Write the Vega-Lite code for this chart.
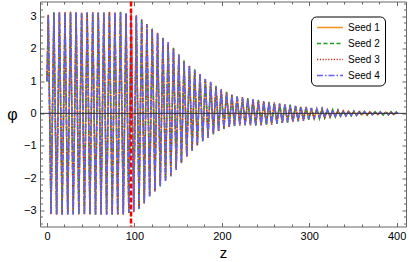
{
  "$schema": "https://vega.github.io/schema/vega-lite/v6.json",
  "width": 366,
  "height": 225,
  "autosize": {"type": "none"},
  "padding": {"left": 40, "top": 1.5, "right": 3, "bottom": 35.5},
  "background": "white",
  "config": {
    "view": {"stroke": "#666666", "strokeWidth": 1},
    "font": "Liberation Sans",
    "axis": {"domain": false, "grid": false, "labelFont": "Liberation Sans", "labelFontSize": 11, "labelColor": "#000000", "titleFont": "Liberation Sans", "titleFontWeight": "normal", "titleColor": "#000000", "tickColor": "#666666", "tickWidth": 1, "zindex": 1},
    "legend": {"strokeColor": "#000000", "fillColor": "#ffffff", "cornerRadius": 5, "padding": 5, "rowPadding": 5, "labelFont": "Liberation Sans", "labelFontSize": 10, "labelColor": "#000000", "symbolType": "M-1,0H4.2", "symbolSize": 100, "symbolStrokeWidth": 1.5, "labelOffset": 20}
  },
  "datasets": {
    "wave": [
      {"z": 0, "Seed 1": 1.0, "Seed 2": 0.98, "Seed 3": 1.02, "Seed 4": 1.0},
      {"z": 1.5, "Seed 1": 3.04, "Seed 2": 3.02, "Seed 3": 3.05, "Seed 4": 3.03},
      {"z": 4.6, "Seed 1": -3.12, "Seed 2": -3.1, "Seed 3": -3.13, "Seed 4": -3.11},
      {"z": 7.9, "Seed 1": 3.11, "Seed 2": 3.13, "Seed 3": 3.09, "Seed 4": 3.12},
      {"z": 11.0, "Seed 1": -3.13, "Seed 2": -3.11, "Seed 3": -3.14, "Seed 4": -3.12},
      {"z": 14.2, "Seed 1": 3.12, "Seed 2": 3.1, "Seed 3": 3.13, "Seed 4": 3.14},
      {"z": 17.3, "Seed 1": -3.1, "Seed 2": -3.13, "Seed 3": -3.12, "Seed 4": -3.14},
      {"z": 20.6, "Seed 1": 3.13, "Seed 2": 3.11, "Seed 3": 3.12, "Seed 4": 3.1},
      {"z": 23.7, "Seed 1": -3.14, "Seed 2": -3.12, "Seed 3": -3.1, "Seed 4": -3.13},
      {"z": 26.9, "Seed 1": 3.1, "Seed 2": 3.12, "Seed 3": 3.14, "Seed 4": 3.11},
      {"z": 30.0, "Seed 1": -3.12, "Seed 2": -3.14, "Seed 3": -3.11, "Seed 4": -3.13},
      {"z": 33.3, "Seed 1": 3.12, "Seed 2": 3.1, "Seed 3": 3.11, "Seed 4": 3.13},
      {"z": 36.4, "Seed 1": -3.11, "Seed 2": -3.13, "Seed 3": -3.14, "Seed 4": -3.12},
      {"z": 39.6, "Seed 1": 3.09, "Seed 2": 3.11, "Seed 3": 3.12, "Seed 4": 3.1},
      {"z": 42.8, "Seed 1": -3.13, "Seed 2": -3.12, "Seed 3": -3.1, "Seed 4": -3.14},
      {"z": 46.0, "Seed 1": 3.12, "Seed 2": 3.14, "Seed 3": 3.1, "Seed 4": 3.13},
      {"z": 49.1, "Seed 1": -3.14, "Seed 2": -3.11, "Seed 3": -3.13, "Seed 4": -3.12},
      {"z": 52.3, "Seed 1": 3.11, "Seed 2": 3.12, "Seed 3": 3.13, "Seed 4": 3.1},
      {"z": 55.5, "Seed 1": -3.12, "Seed 2": -3.14, "Seed 3": -3.12, "Seed 4": -3.13},
      {"z": 58.7, "Seed 1": 3.13, "Seed 2": 3.11, "Seed 3": 3.1, "Seed 4": 3.12},
      {"z": 61.8, "Seed 1": -3.1, "Seed 2": -3.12, "Seed 3": -3.14, "Seed 4": -3.13},
      {"z": 65.0, "Seed 1": 3.1, "Seed 2": 3.12, "Seed 3": 3.11, "Seed 4": 3.13},
      {"z": 68.2, "Seed 1": -3.13, "Seed 2": -3.11, "Seed 3": -3.12, "Seed 4": -3.14},
      {"z": 71.4, "Seed 1": 3.14, "Seed 2": 3.12, "Seed 3": 3.13, "Seed 4": 3.11},
      {"z": 74.6, "Seed 1": -3.12, "Seed 2": -3.14, "Seed 3": -3.11, "Seed 4": -3.13},
      {"z": 77.7, "Seed 1": 3.11, "Seed 2": 3.1, "Seed 3": 3.12, "Seed 4": 3.12},
      {"z": 80.9, "Seed 1": -3.14, "Seed 2": -3.12, "Seed 3": -3.13, "Seed 4": -3.11},
      {"z": 84.1, "Seed 1": 3.12, "Seed 2": 3.14, "Seed 3": 3.11, "Seed 4": 3.13},
      {"z": 87.3, "Seed 1": -3.11, "Seed 2": -3.13, "Seed 3": -3.14, "Seed 4": -3.12},
      {"z": 90.4, "Seed 1": 3.08, "Seed 2": 3.1, "Seed 3": 3.07, "Seed 4": 3.09},
      {"z": 93.6, "Seed 1": -3.06, "Seed 2": -3.08, "Seed 3": -3.07, "Seed 4": -3.05},
      {"z": 96.3, "Seed 1": 3.06, "Seed 2": 3.04, "Seed 3": 3.07, "Seed 4": 3.05},
      {"z": 99.2, "Seed 1": -3.05, "Seed 2": -3.03, "Seed 3": -3.06, "Seed 4": -3.04},
      {"z": 102.2, "Seed 1": 3.02, "Seed 2": 3.0, "Seed 3": 3.04, "Seed 4": 3.01},
      {"z": 105.3, "Seed 1": -2.94, "Seed 2": -2.96, "Seed 3": -2.92, "Seed 4": -2.95},
      {"z": 108.3, "Seed 1": 2.9, "Seed 2": 2.92, "Seed 3": 2.88, "Seed 4": 2.91},
      {"z": 111.3, "Seed 1": -2.78, "Seed 2": -2.76, "Seed 3": -2.8, "Seed 4": -2.77},
      {"z": 114.3, "Seed 1": 2.74, "Seed 2": 2.72, "Seed 3": 2.76, "Seed 4": 2.75},
      {"z": 117.4, "Seed 1": -2.56, "Seed 2": -2.58, "Seed 3": -2.54, "Seed 4": -2.57},
      {"z": 120.4, "Seed 1": 2.61, "Seed 2": 2.63, "Seed 3": 2.59, "Seed 4": 2.6},
      {"z": 123.5, "Seed 1": -2.4, "Seed 2": -2.38, "Seed 3": -2.42, "Seed 4": -2.41},
      {"z": 126.5, "Seed 1": 2.47, "Seed 2": 2.45, "Seed 3": 2.49, "Seed 4": 2.48},
      {"z": 129.6, "Seed 1": -2.24, "Seed 2": -2.26, "Seed 3": -2.22, "Seed 4": -2.25},
      {"z": 132.6, "Seed 1": 2.33, "Seed 2": 2.35, "Seed 3": 2.31, "Seed 4": 2.32},
      {"z": 135.6, "Seed 1": -2.08, "Seed 2": -2.06, "Seed 3": -2.1, "Seed 4": -2.09},
      {"z": 138.6, "Seed 1": 2.18, "Seed 2": 2.16, "Seed 3": 2.2, "Seed 4": 2.19},
      {"z": 141.7, "Seed 1": -1.93, "Seed 2": -1.95, "Seed 3": -1.91, "Seed 4": -1.94},
      {"z": 144.7, "Seed 1": 2.01, "Seed 2": 2.03, "Seed 3": 1.99, "Seed 4": 2.0},
      {"z": 147.8, "Seed 1": -1.73, "Seed 2": -1.71, "Seed 3": -1.75, "Seed 4": -1.74},
      {"z": 150.8, "Seed 1": 1.81, "Seed 2": 1.79, "Seed 3": 1.83, "Seed 4": 1.82},
      {"z": 153.8, "Seed 1": -1.53, "Seed 2": -1.55, "Seed 3": -1.51, "Seed 4": -1.54},
      {"z": 156.8, "Seed 1": 1.62, "Seed 2": 1.64, "Seed 3": 1.6, "Seed 4": 1.61},
      {"z": 159.9, "Seed 1": -1.33, "Seed 2": -1.31, "Seed 3": -1.35, "Seed 4": -1.34},
      {"z": 162.9, "Seed 1": 1.47, "Seed 2": 1.45, "Seed 3": 1.49, "Seed 4": 1.48},
      {"z": 166.0, "Seed 1": -1.14, "Seed 2": -1.16, "Seed 3": -1.12, "Seed 4": -1.15},
      {"z": 169.0, "Seed 1": 1.34, "Seed 2": 1.36, "Seed 3": 1.32, "Seed 4": 1.33},
      {"z": 172.0, "Seed 1": -0.98, "Seed 2": -0.96, "Seed 3": -1.0, "Seed 4": -0.99},
      {"z": 175.0, "Seed 1": 1.21, "Seed 2": 1.19, "Seed 3": 1.23, "Seed 4": 1.22},
      {"z": 178.1, "Seed 1": -0.85, "Seed 2": -0.87, "Seed 3": -0.83, "Seed 4": -0.86},
      {"z": 181.1, "Seed 1": 1.07, "Seed 2": 1.09, "Seed 3": 1.05, "Seed 4": 1.06},
      {"z": 184.2, "Seed 1": -0.74, "Seed 2": -0.72, "Seed 3": -0.76, "Seed 4": -0.75},
      {"z": 187.2, "Seed 1": 0.96, "Seed 2": 0.94, "Seed 3": 0.98, "Seed 4": 0.97},
      {"z": 190.3, "Seed 1": -0.63, "Seed 2": -0.65, "Seed 3": -0.61, "Seed 4": -0.64},
      {"z": 193.3, "Seed 1": 0.83, "Seed 2": 0.85, "Seed 3": 0.81, "Seed 4": 0.82},
      {"z": 196.3, "Seed 1": -0.54, "Seed 2": -0.52, "Seed 3": -0.56, "Seed 4": -0.55},
      {"z": 199.3, "Seed 1": 0.73, "Seed 2": 0.71, "Seed 3": 0.75, "Seed 4": 0.74},
      {"z": 202.4, "Seed 1": -0.47, "Seed 2": -0.49, "Seed 3": -0.45, "Seed 4": -0.48},
      {"z": 205.4, "Seed 1": 0.65, "Seed 2": 0.67, "Seed 3": 0.63, "Seed 4": 0.64},
      {"z": 208.5, "Seed 1": -0.42, "Seed 2": -0.4, "Seed 3": -0.44, "Seed 4": -0.43},
      {"z": 211.5, "Seed 1": 0.57, "Seed 2": 0.55, "Seed 3": 0.59, "Seed 4": 0.58},
      {"z": 214.5, "Seed 1": -0.38, "Seed 2": -0.4, "Seed 3": -0.36, "Seed 4": -0.39},
      {"z": 217.5, "Seed 1": 0.53, "Seed 2": 0.55, "Seed 3": 0.51, "Seed 4": 0.52},
      {"z": 220.6, "Seed 1": -0.36, "Seed 2": -0.34, "Seed 3": -0.38, "Seed 4": -0.37},
      {"z": 223.6, "Seed 1": 0.48, "Seed 2": 0.46, "Seed 3": 0.5, "Seed 4": 0.49},
      {"z": 226.7, "Seed 1": -0.35, "Seed 2": -0.37, "Seed 3": -0.33, "Seed 4": -0.36},
      {"z": 229.7, "Seed 1": 0.45, "Seed 2": 0.47, "Seed 3": 0.43, "Seed 4": 0.44},
      {"z": 232.7, "Seed 1": -0.35, "Seed 2": -0.33, "Seed 3": -0.37, "Seed 4": -0.36},
      {"z": 235.7, "Seed 1": 0.42, "Seed 2": 0.4, "Seed 3": 0.44, "Seed 4": 0.43},
      {"z": 238.8, "Seed 1": -0.36, "Seed 2": -0.38, "Seed 3": -0.34, "Seed 4": -0.37},
      {"z": 241.8, "Seed 1": 0.4, "Seed 2": 0.42, "Seed 3": 0.38, "Seed 4": 0.39},
      {"z": 244.9, "Seed 1": -0.36, "Seed 2": -0.34, "Seed 3": -0.38, "Seed 4": -0.37},
      {"z": 247.9, "Seed 1": 0.36, "Seed 2": 0.34, "Seed 3": 0.38, "Seed 4": 0.37},
      {"z": 251.0, "Seed 1": -0.35, "Seed 2": -0.37, "Seed 3": -0.33, "Seed 4": -0.36},
      {"z": 254.0, "Seed 1": 0.34, "Seed 2": 0.36, "Seed 3": 0.32, "Seed 4": 0.33},
      {"z": 257.0, "Seed 1": -0.33, "Seed 2": -0.31, "Seed 3": -0.35, "Seed 4": -0.34},
      {"z": 260.0, "Seed 1": 0.32, "Seed 2": 0.3, "Seed 3": 0.34, "Seed 4": 0.33},
      {"z": 263.1, "Seed 1": -0.31, "Seed 2": -0.33, "Seed 3": -0.29, "Seed 4": -0.32},
      {"z": 266.1, "Seed 1": 0.29, "Seed 2": 0.31, "Seed 3": 0.27, "Seed 4": 0.28},
      {"z": 269.2, "Seed 1": -0.29, "Seed 2": -0.27, "Seed 3": -0.31, "Seed 4": -0.3},
      {"z": 272.2, "Seed 1": 0.27, "Seed 2": 0.25, "Seed 3": 0.29, "Seed 4": 0.28},
      {"z": 275.2, "Seed 1": -0.27, "Seed 2": -0.29, "Seed 3": -0.25, "Seed 4": -0.28},
      {"z": 278.2, "Seed 1": 0.25, "Seed 2": 0.27, "Seed 3": 0.23, "Seed 4": 0.24},
      {"z": 281.3, "Seed 1": -0.25, "Seed 2": -0.23, "Seed 3": -0.27, "Seed 4": -0.26},
      {"z": 284.3, "Seed 1": 0.22, "Seed 2": 0.2, "Seed 3": 0.24, "Seed 4": 0.23},
      {"z": 287.4, "Seed 1": -0.23, "Seed 2": -0.25, "Seed 3": -0.21, "Seed 4": -0.24},
      {"z": 290.4, "Seed 1": 0.2, "Seed 2": 0.22, "Seed 3": 0.18, "Seed 4": 0.19},
      {"z": 293.4, "Seed 1": -0.21, "Seed 2": -0.19, "Seed 3": -0.23, "Seed 4": -0.22},
      {"z": 296.4, "Seed 1": 0.19, "Seed 2": 0.17, "Seed 3": 0.2, "Seed 4": 0.18},
      {"z": 299.5, "Seed 1": -0.19, "Seed 2": -0.2, "Seed 3": -0.17, "Seed 4": -0.18},
      {"z": 302.5, "Seed 1": 0.16, "Seed 2": 0.17, "Seed 3": 0.15, "Seed 4": 0.16},
      {"z": 305.6, "Seed 1": -0.17, "Seed 2": -0.18, "Seed 3": -0.16, "Seed 4": -0.17},
      {"z": 308.6, "Seed 1": 0.14, "Seed 2": 0.15, "Seed 3": 0.13, "Seed 4": 0.14},
      {"z": 311.7, "Seed 1": -0.15, "Seed 2": -0.16, "Seed 3": -0.14, "Seed 4": -0.15},
      {"z": 314.7, "Seed 1": 0.13, "Seed 2": 0.14, "Seed 3": 0.12, "Seed 4": 0.13},
      {"z": 317.7, "Seed 1": -0.13, "Seed 2": -0.14, "Seed 3": -0.12, "Seed 4": -0.13},
      {"z": 320.7, "Seed 1": 0.11, "Seed 2": 0.12, "Seed 3": 0.1, "Seed 4": 0.11},
      {"z": 323.8, "Seed 1": -0.11, "Seed 2": -0.12, "Seed 3": -0.1, "Seed 4": -0.11},
      {"z": 326.8, "Seed 1": 0.1, "Seed 2": 0.11, "Seed 3": 0.09, "Seed 4": 0.1},
      {"z": 329.9, "Seed 1": -0.1, "Seed 2": -0.11, "Seed 3": -0.09, "Seed 4": -0.1},
      {"z": 332.9, "Seed 1": 0.09, "Seed 2": 0.1, "Seed 3": 0.08, "Seed 4": 0.09},
      {"z": 335.9, "Seed 1": -0.09, "Seed 2": -0.1, "Seed 3": -0.08, "Seed 4": -0.09},
      {"z": 338.9, "Seed 1": 0.08, "Seed 2": 0.09, "Seed 3": 0.07, "Seed 4": 0.08},
      {"z": 342.0, "Seed 1": -0.08, "Seed 2": -0.09, "Seed 3": -0.07, "Seed 4": -0.08},
      {"z": 345.0, "Seed 1": 0.07, "Seed 2": 0.08, "Seed 3": 0.06, "Seed 4": 0.07},
      {"z": 348.1, "Seed 1": -0.07, "Seed 2": -0.08, "Seed 3": -0.06, "Seed 4": -0.07},
      {"z": 351.1, "Seed 1": 0.06, "Seed 2": 0.07, "Seed 3": 0.05, "Seed 4": 0.06},
      {"z": 354.1, "Seed 1": -0.06, "Seed 2": -0.07, "Seed 3": -0.05, "Seed 4": -0.06},
      {"z": 357.1, "Seed 1": 0.05, "Seed 2": 0.07, "Seed 3": 0.05, "Seed 4": 0.05},
      {"z": 360.2, "Seed 1": -0.05, "Seed 2": -0.06, "Seed 3": -0.04, "Seed 4": -0.05},
      {"z": 363.2, "Seed 1": 0.05, "Seed 2": 0.06, "Seed 3": 0.04, "Seed 4": 0.05},
      {"z": 366.3, "Seed 1": -0.05, "Seed 2": -0.06, "Seed 3": -0.04, "Seed 4": -0.05},
      {"z": 369.3, "Seed 1": 0.05, "Seed 2": 0.06, "Seed 3": 0.04, "Seed 4": 0.04},
      {"z": 372.4, "Seed 1": -0.04, "Seed 2": -0.06, "Seed 3": -0.04, "Seed 4": -0.04},
      {"z": 375.4, "Seed 1": 0.04, "Seed 2": 0.05, "Seed 3": 0.03, "Seed 4": 0.04},
      {"z": 378.4, "Seed 1": -0.04, "Seed 2": -0.05, "Seed 3": -0.03, "Seed 4": -0.04},
      {"z": 381.4, "Seed 1": 0.04, "Seed 2": 0.05, "Seed 3": 0.03, "Seed 4": 0.04},
      {"z": 384.5, "Seed 1": -0.04, "Seed 2": -0.05, "Seed 3": -0.03, "Seed 4": -0.04},
      {"z": 387.5, "Seed 1": 0.04, "Seed 2": 0.05, "Seed 3": 0.03, "Seed 4": 0.04},
      {"z": 390.6, "Seed 1": -0.04, "Seed 2": -0.05, "Seed 3": -0.03, "Seed 4": -0.04},
      {"z": 393.6, "Seed 1": 0.04, "Seed 2": 0.05, "Seed 3": 0.03, "Seed 4": 0.04},
      {"z": 396.6, "Seed 1": -0.04, "Seed 2": -0.05, "Seed 3": -0.03, "Seed 4": -0.04},
      {"z": 399.6, "Seed 1": 0.03, "Seed 2": 0.04, "Seed 3": 0.03, "Seed 4": 0.03},
      {"z": 401.5, "Seed 1": 0.0, "Seed 2": 0.0, "Seed 3": 0.0, "Seed 4": 0.0}
    ]
  },
  "resolve": {"axis": {"x": "independent", "y": "independent"}},
  "layer": [
    {
      "data": {"name": "wave"},
      "transform": [{"fold": ["Seed 1", "Seed 2", "Seed 3", "Seed 4"], "as": ["seed", "phi"]}],
      "mark": {"type": "line", "strokeWidth": 1.5},
      "encoding": {
        "x": {"field": "z", "type": "quantitative", "scale": {"domain": [-8, 410.7], "nice": false, "zero": false},
          "axis": {"orient": "bottom", "values": [0, 100, 200, 300, 400], "tickSize": -4, "labelPadding": 8, "title": "z", "titleFontSize": 15, "titlePadding": 4}},
        "y": {"field": "phi", "type": "quantitative", "scale": {"domain": [-3.5, 3.46], "nice": false, "zero": false},
          "axis": {"orient": "left", "values": [-3, -2, -1, 0, 1, 2, 3], "tickSize": -4, "labelPadding": 8, "title": "φ", "titleFontSize": 16, "titleAngle": 0, "titleAlign": "center", "titleBaseline": "middle", "titleX": -28, "titleY": 113}},
        "color": {"field": "seed", "type": "nominal",
          "scale": {"domain": ["Seed 1", "Seed 2", "Seed 3", "Seed 4"], "range": ["#F7901E", "#1E9C1E", "#D62222", "#6262F0"]},
          "legend": {"orient": "none", "legendX": 271, "legendY": 15, "title": null}},
        "strokeDash": {"field": "seed", "type": "nominal",
          "scale": {"domain": ["Seed 1", "Seed 2", "Seed 3", "Seed 4"], "range": [[1, 0], [4, 2.5], [1.2, 1.6], [6, 2, 1.5, 2]]},
          "legend": {"orient": "none", "legendX": 271, "legendY": 15, "title": null}}
      }
    },
    {
      "data": {"name": "wave"},
      "mark": {"type": "point", "opacity": 0},
      "encoding": {
        "x": {"field": "z", "type": "quantitative", "scale": {"domain": [-8, 410.7], "nice": false, "zero": false},
          "axis": {"orient": "bottom", "values": [20, 40, 60, 80, 120, 140, 160, 180, 220, 240, 260, 280, 320, 340, 360, 380], "tickSize": -2.5, "labels": false, "title": null}},
        "y": {"field": "Seed 1", "type": "quantitative", "scale": {"domain": [-3.5, 3.46], "nice": false, "zero": false},
          "axis": {"orient": "left", "values": [-3.4, -3.2, -2.8, -2.6, -2.4, -2.2, -1.8, -1.6, -1.4, -1.2, -0.8, -0.6, -0.4, -0.2, 0.2, 0.4, 0.6, 0.8, 1.2, 1.4, 1.6, 1.8, 2.2, 2.4, 2.6, 2.8, 3.2, 3.4], "tickSize": -2.5, "labels": false, "title": null}}
      }
    },
    {
      "data": {"name": "wave"},
      "mark": {"type": "point", "opacity": 0},
      "encoding": {
        "x": {"field": "z", "type": "quantitative", "scale": {"domain": [-8, 410.7], "nice": false, "zero": false},
          "axis": {"orient": "top", "values": [20, 40, 60, 80, 120, 140, 160, 180, 220, 240, 260, 280, 320, 340, 360, 380], "tickSize": -2.5, "labels": false, "title": null}},
        "y": {"field": "Seed 1", "type": "quantitative", "scale": {"domain": [-3.5, 3.46], "nice": false, "zero": false},
          "axis": {"orient": "right", "values": [-3.4, -3.2, -2.8, -2.6, -2.4, -2.2, -1.8, -1.6, -1.4, -1.2, -0.8, -0.6, -0.4, -0.2, 0.2, 0.4, 0.6, 0.8, 1.2, 1.4, 1.6, 1.8, 2.2, 2.4, 2.6, 2.8, 3.2, 3.4], "tickSize": -2.5, "labels": false, "title": null}}
      }
    },
    {
      "data": {"values": [{"phi0": 0}]},
      "mark": {"type": "rule", "color": "#333333", "strokeWidth": 1},
      "encoding": {
        "y": {"field": "phi0", "type": "quantitative", "scale": {"domain": [-3.5, 3.46], "nice": false, "zero": false},
          "axis": {"orient": "right", "values": [-3, -2, -1, 0, 1, 2, 3], "tickSize": -4, "labels": false, "title": null}}
      }
    },
    {
      "data": {"values": [{"zmark": 96.1}]},
      "mark": {"type": "rule", "color": "#FF0000", "strokeWidth": 2.5, "strokeDash": [5, 2]},
      "encoding": {
        "x": {"field": "zmark", "type": "quantitative", "scale": {"domain": [-8, 410.7], "nice": false, "zero": false},
          "axis": {"orient": "top", "values": [0, 100, 200, 300, 400], "tickSize": -4, "labels": false, "title": null}}
      }
    }
  ]
}
